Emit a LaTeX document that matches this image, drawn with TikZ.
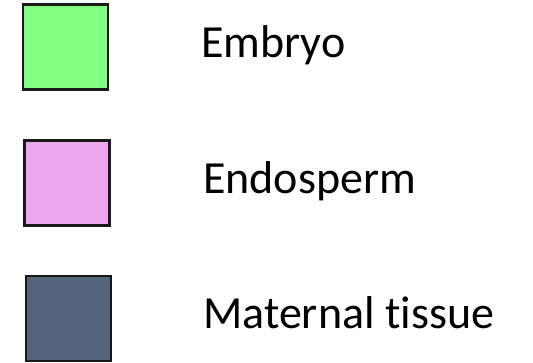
\documentclass[tikz,border=0pt]{standalone}
\usepackage{fontspec}
\setmainfont[Ligatures={NoCommon}]{Carlito}
\usepackage{tikz}
\definecolor{EmbryoGreen}{HTML}{80FF80}
\definecolor{EndoPink}{HTML}{EDA6ED}
\definecolor{MaternalSlate}{HTML}{53657D}

\begin{document}
\begin{tikzpicture}[
  x=1pt, y=-1pt,
  swatch/.style={draw=black!90, line width=2.4pt, minimum width=85pt, minimum height=85pt, inner sep=0pt},
  legendtext/.style={anchor=base west, font=\fontsize{46}{50}\selectfont, inner sep=0pt}
]
\useasboundingbox (0,0) rectangle (533,362);

% Swatches
\node[swatch, fill=EmbryoGreen] at (65.5,47) (embryobox) {};
\node[swatch, fill=EndoPink] at (67,183) (endobox) {};
\node[swatch, fill=MaternalSlate] at (68.5,318.5) (maternalbox) {};

% Labels
\node[legendtext] at (201,57) (embryo) {Embryo};
\node[legendtext] at (203,193) (endo) {Endosperm};
\node[legendtext] at (203,328) (maternal) {Maternal tissue};
\end{tikzpicture}
\end{document}
